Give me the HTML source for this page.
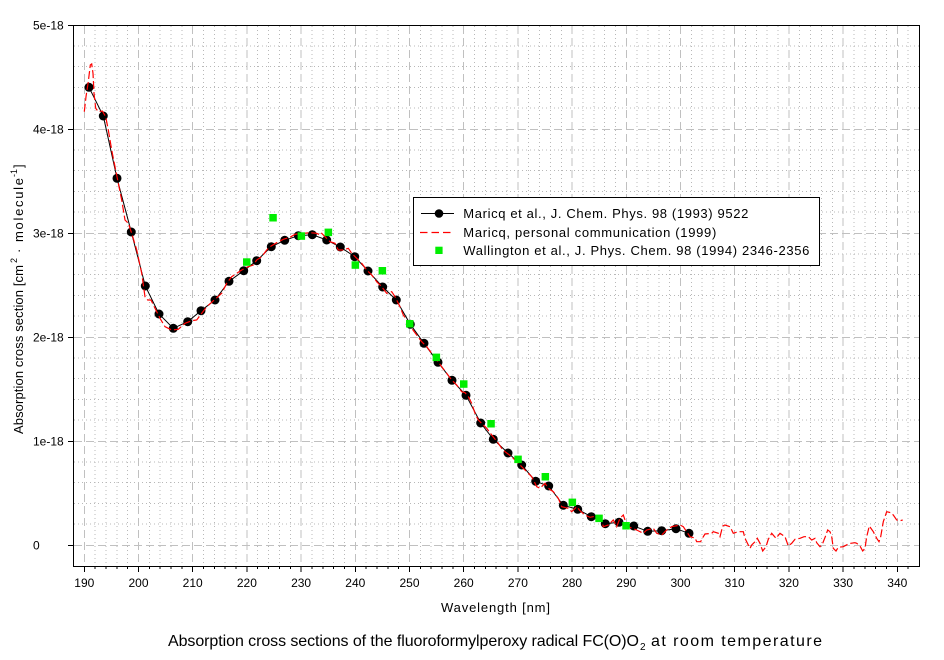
<!DOCTYPE html>
<html>
<head>
<meta charset="utf-8">
<style>
html,body{margin:0;padding:0;background:#fff;}
svg{display:block;}
text{font-family:"Liberation Sans",Arial,sans-serif;fill:#000;}
</style>
</head>
<body>
<svg width="944" height="660" viewBox="0 0 944 660" xmlns="http://www.w3.org/2000/svg">
<rect x="0" y="0" width="944" height="660" fill="#fff"/>

<!-- minor grid -->
<g stroke="#b8b8b8" stroke-width="1" stroke-dasharray="1,3" fill="none" shape-rendering="crispEdges">
<path d="M95.1 26V566M106 26V566M116.8 26V566M127.7 26V566
M149.3 26V566M160.2 26V566M171 26V566M181.9 26V566
M203.5 26V566M214.4 26V566M225.2 26V566M236.1 26V566
M257.7 26V566M268.6 26V566M279.4 26V566M290.3 26V566
M311.9 26V566M322.8 26V566M333.6 26V566M344.5 26V566
M366.1 26V566M377 26V566M387.8 26V566M398.7 26V566
M420.3 26V566M431.2 26V566M442 26V566M452.9 26V566
M474.5 26V566M485.4 26V566M496.2 26V566M507.1 26V566
M528.7 26V566M539.6 26V566M550.4 26V566M561.3 26V566
M582.9 26V566M593.8 26V566M604.6 26V566M615.5 26V566
M637.1 26V566M648 26V566M658.8 26V566M669.7 26V566
M691.3 26V566M702.2 26V566M713 26V566M723.9 26V566
M745.5 26V566M756.4 26V566M767.2 26V566M778.1 26V566
M799.7 26V566M810.6 26V566M821.4 26V566M832.3 26V566
M853.9 26V566M864.8 26V566M875.6 26V566M886.5 26V566
M908.1 26V566"/>
<path d="M74 524.2H919M74 503.4H919M74 482.6H919M74 461.8H919
M74 420.2H919M74 399.4H919M74 378.6H919M74 357.8H919
M74 316.2H919M74 295.4H919M74 274.6H919M74 253.8H919
M74 212.2H919M74 191.4H919M74 170.6H919M74 149.8H919
M74 108.2H919M74 87.4H919M74 66.6H919M74 45.8H919"/>
</g>

<!-- major grid -->
<g stroke="#c0c0c0" stroke-width="1" stroke-dasharray="8,4" fill="none" shape-rendering="crispEdges">
<path d="M84.3 26V566M138.5 26V566M192.7 26V566M246.9 26V566M301.1 26V566M355.3 26V566M409.5 26V566M463.7 26V566M517.9 26V566M572.1 26V566M626.3 26V566M680.5 26V566M734.7 26V566M788.9 26V566M843.1 26V566M897.3 26V566"/>
<path d="M74 545.5H919M74 441.5H919M74 337.5H919M74 233.5H919M74 129.5H919"/>
</g>

<!-- frame -->
<rect x="73.5" y="25.5" width="846" height="541" fill="none" stroke="#000" stroke-width="1" shape-rendering="crispEdges"/>

<!-- ticks -->
<g stroke="#000" stroke-width="1" fill="none" shape-rendering="crispEdges">
<path d="M68 25.5H73M68 129.5H73M68 233.5H73M68 337.5H73M68 441.5H73M68 545.5H73"/>
<path d="M84.3 566V572M138.5 566V572M192.7 566V572M246.9 566V572M301.1 566V572M355.3 566V572M409.5 566V572M463.7 566V572M517.9 566V572M572.1 566V572M626.3 566V572M680.5 566V572M734.7 566V572M788.9 566V572M843.1 566V572M897.3 566V572"/>
<path d="M95.1 566V569M106 566V569M116.8 566V569M127.7 566V569
M149.3 566V569M160.2 566V569M171 566V569M181.9 566V569
M203.5 566V569M214.4 566V569M225.2 566V569M236.1 566V569
M257.7 566V569M268.6 566V569M279.4 566V569M290.3 566V569
M311.9 566V569M322.8 566V569M333.6 566V569M344.5 566V569
M366.1 566V569M377 566V569M387.8 566V569M398.7 566V569
M420.3 566V569M431.2 566V569M442 566V569M452.9 566V569
M474.5 566V569M485.4 566V569M496.2 566V569M507.1 566V569
M528.7 566V569M539.6 566V569M550.4 566V569M561.3 566V569
M582.9 566V569M593.8 566V569M604.6 566V569M615.5 566V569
M637.1 566V569M648 566V569M658.8 566V569M669.7 566V569
M691.3 566V569M702.2 566V569M713 566V569M723.9 566V569
M745.5 566V569M756.4 566V569M767.2 566V569M778.1 566V569
M799.7 566V569M810.6 566V569M821.4 566V569M832.3 566V569
M853.9 566V569M864.8 566V569M875.6 566V569M886.5 566V569
M908.1 566V569"/>
</g>

<!-- y tick labels -->
<g font-size="12">
<text x="33" y="29.5">5e-18</text>
<text x="33" y="133.5">4e-18</text>
<text x="33" y="237.5">3e-18</text>
<text x="33" y="341.5">2e-18</text>
<text x="33" y="445.5">1e-18</text>
<text x="33" y="549.5">0</text>
</g>

<!-- x tick labels -->
<g font-size="12" text-anchor="middle">
<text x="84.3" y="587">190</text>
<text x="138.5" y="587">200</text>
<text x="192.7" y="587">210</text>
<text x="246.9" y="587">220</text>
<text x="301.1" y="587">230</text>
<text x="355.3" y="587">240</text>
<text x="409.5" y="587">250</text>
<text x="463.7" y="587">260</text>
<text x="517.9" y="587">270</text>
<text x="572.1" y="587">280</text>
<text x="626.3" y="587">290</text>
<text x="680.5" y="587">300</text>
<text x="734.7" y="587">310</text>
<text x="788.9" y="587">320</text>
<text x="843.1" y="587">330</text>
<text x="897.3" y="587">340</text>
</g>

<!-- axis titles -->
<text x="441" y="612" font-size="13" textLength="109" lengthAdjust="spacing">Wavelength [nm]</text>

<g transform="translate(23,434) rotate(-90)" font-size="13">
<text x="0" y="0" textLength="169" lengthAdjust="spacing">Absorption cross section [cm</text>
<text x="171" y="-6" font-size="9">2</text>
<text x="181" y="0">·</text>
<text x="192" y="0" textLength="64" lengthAdjust="spacing">molecule</text>
<text x="257" y="-6" font-size="9">-1</text>
<text x="266" y="0">]</text>
</g>

<!-- chart title -->
<text x="168" y="646" font-size="16" textLength="471" lengthAdjust="spacing">Absorption cross sections of the fluoroformylperoxy radical FC(O)O</text>
<text x="640" y="650" font-size="10">2</text>
<text x="651" y="646" font-size="16" textLength="171" lengthAdjust="spacing">at room temperature</text>

<!-- Maricq 1993 black line -->
<polyline fill="none" stroke="#000" stroke-width="1" points="89,87.3 103.3,116 117,178.3 131.3,232 145.3,286 159,314 173.3,328.3 187.7,321.7 201,310.7 215,300 229,281.3 243.7,270.7 256.7,260.7 271.3,246.7 284.7,240.3 298.3,235.7 312.3,234.7 326.7,240 340.3,247 354.7,256.7 368,271 382.7,287 396.3,300 410.3,324.3 424,343.3 438,362.3 452,380.3 466,395.3 480.7,423 493.3,439.3 508,453 521.7,465 535.7,481.3 548.7,486 563.3,505.3 577.7,509.3 591.3,516.7 605.3,523.7 619,522.3 633.7,526 647.7,531.3 661.7,530.7 676,528.7 689,533.3"/>

<!-- circles -->
<g fill="#000">
<circle cx="89" cy="87.3" r="4.5"/><circle cx="103.3" cy="116" r="4.5"/><circle cx="117" cy="178.3" r="4.5"/><circle cx="131.3" cy="232" r="4.5"/>
<circle cx="145.3" cy="286" r="4.5"/><circle cx="159" cy="314" r="4.5"/><circle cx="173.3" cy="328.3" r="4.5"/><circle cx="187.7" cy="321.7" r="4.5"/>
<circle cx="201" cy="310.7" r="4.5"/><circle cx="215" cy="300" r="4.5"/><circle cx="229" cy="281.3" r="4.5"/><circle cx="243.7" cy="270.7" r="4.5"/>
<circle cx="256.7" cy="260.7" r="4.5"/><circle cx="271.3" cy="246.7" r="4.5"/><circle cx="284.7" cy="240.3" r="4.5"/><circle cx="298.3" cy="235.7" r="4.5"/>
<circle cx="312.3" cy="234.7" r="4.5"/><circle cx="326.7" cy="240" r="4.5"/><circle cx="340.3" cy="247" r="4.5"/><circle cx="354.7" cy="256.7" r="4.5"/>
<circle cx="368" cy="271" r="4.5"/><circle cx="382.7" cy="287" r="4.5"/><circle cx="396.3" cy="300" r="4.5"/><circle cx="410.3" cy="324.3" r="4.5"/>
<circle cx="424" cy="343.3" r="4.5"/><circle cx="438" cy="362.3" r="4.5"/><circle cx="452" cy="380.3" r="4.5"/><circle cx="466" cy="395.3" r="4.5"/>
<circle cx="480.7" cy="423" r="4.5"/><circle cx="493.3" cy="439.3" r="4.5"/><circle cx="508" cy="453" r="4.5"/><circle cx="521.7" cy="465" r="4.5"/>
<circle cx="535.7" cy="481.3" r="4.5"/><circle cx="548.7" cy="486" r="4.5"/><circle cx="563.3" cy="505.3" r="4.5"/><circle cx="577.7" cy="509.3" r="4.5"/>
<circle cx="591.3" cy="516.7" r="4.5"/><circle cx="605.3" cy="523.7" r="4.5"/><circle cx="619" cy="522.3" r="4.5"/><circle cx="633.7" cy="526" r="4.5"/>
<circle cx="647.7" cy="531.3" r="4.5"/><circle cx="661.7" cy="530.7" r="4.5"/><circle cx="676" cy="528.7" r="4.5"/><circle cx="689" cy="533.3" r="4.5"/>
</g>

<!-- Maricq 1999 red dashed -->
<polyline fill="none" stroke="#ff0000" stroke-width="1.2" stroke-dasharray="8,3" points="84.3,111.7 86,96.7 88.3,81.7 90.3,65 91.7,64 93,73.3 94,93.3 95.7,108.3 98.3,111.7 102.3,111 105.7,116.7 108.3,130 111.7,150 115,166.7 118.3,183.3 121.7,200 125,220 128.3,223.3 131.7,233.3 136.7,250 141.7,273.3 145,296.7 147.7,300 151,300 155,308.3 160,318.3 165,326.7 171.7,330 178.3,329.3 185,323.3 191.7,320.7 196.7,320 201.7,313.3 206.7,306.7 215,299.3 221.7,293.3 226.7,283.3 231.7,276.7 241.7,270 248.3,266.7 253.3,265 256.7,260 261.7,256.7 266.7,250 270,246.7 276.7,242.7 283.3,239.3 290,237.3 295,234.3 303.3,233.3 310,232.7 316.7,233.3 320,235 321.7,233.3 325,236.7 330,241.7 335,243.3 338.3,250 343.3,250 348.3,248.3 351.7,253.3 356.7,258.3 361.7,263.3 366.7,270 371.7,275 376.7,281.7 381.7,286.7 386.7,293.3 391.7,291.7 395,296.7 400,306.7 403.3,315 406.7,320 411.7,328.3 416.7,335 421.7,341.7 426.7,346.7 431.7,353.3 436.7,360 441.7,366.7 446.7,373.3 451.7,380 456.7,385 461.7,391.7 465,392.7 468.3,396.7 471.7,403.3 475,413.3 478.3,420 483.3,425 486.7,428.3 491.7,435 498.3,443.3 501.7,448.3 505,451.7 511.7,456.7 520,465 526.7,471.7 531.7,476.7 536.7,486.7 540,488.3 545,483.3 548.3,488.3 553.3,491.7 558.3,498.3 561.7,506.7 568.3,508.3 571.7,511.7 576.7,506.7 580,510.7 585,515 590,517.3 596.7,516 601.7,520 603.3,526.7 608.3,525 613.3,520 616.7,526.7 620,518.3 623.3,515 625,520 628.3,526.7 636.7,530 643.3,533.3 646.7,530 653.3,528.3 656.7,533.3 661.7,535 666.7,530 671.7,526.7 680,525 683.3,526.7 690,536.7 695,538 696.7,541.7 700.7,541.7 701.7,539.3 705,534 711.7,533.3 713.3,531.7 718.3,533.3 720,536.7 722.7,526 725,525 730,526.7 733.3,533.3 738.3,531.7 743.3,531.7 745,538.3 748.3,545 750,548.3 751.7,545 755,541.7 757.3,538.3 760,543.3 762.7,551 766,546.7 768.3,539.3 771.7,533.3 776,538.3 780,533.3 785,536.7 788.3,546 791.7,543.3 795,539.3 800,538.3 804,536.7 808.3,536.7 811.7,540 815,538.3 816.7,542.7 820,546.7 822.7,543.3 825.3,536.7 827.7,530 830,531.7 831.7,536.7 833.3,548.3 836,551 838.3,547.3 843.3,546.7 848.3,544 850.7,543.3 855,542.7 856.7,543.3 860,546 862.7,551 865,548.3 866.7,536.7 869.3,526 873.3,531.7 876.7,538.3 879,541.7 880.7,536.7 883.3,521.7 886.7,511.7 890.7,512.7 893.3,515 896.7,520 900,520.7 902.7,520"/>

<!-- Wallington green squares -->
<g fill="#00ee00">
<rect x="243" y="258.3" width="7.5" height="7.5"/>
<rect x="269.3" y="214" width="7.5" height="7.5"/>
<rect x="297.6" y="232.3" width="7.5" height="7.5"/>
<rect x="324.6" y="228.6" width="7.5" height="7.5"/>
<rect x="351.6" y="261.3" width="7.5" height="7.5"/>
<rect x="378.6" y="267" width="7.5" height="7.5"/>
<rect x="406" y="320" width="7.5" height="7.5"/>
<rect x="432.6" y="353.6" width="7.5" height="7.5"/>
<rect x="460" y="380.3" width="7.5" height="7.5"/>
<rect x="487.3" y="420" width="7.5" height="7.5"/>
<rect x="514.3" y="455.6" width="7.5" height="7.5"/>
<rect x="541.6" y="473" width="7.5" height="7.5"/>
<rect x="568.6" y="498.6" width="7.5" height="7.5"/>
<rect x="595.3" y="514.6" width="7.5" height="7.5"/>
<rect x="622.3" y="522" width="7.5" height="7.5"/>
</g>

<!-- legend -->
<rect x="413.5" y="197.5" width="406" height="68" fill="#fff" stroke="#000" stroke-width="1" shape-rendering="crispEdges"/>
<line x1="421" y1="213.5" x2="454" y2="213.5" stroke="#000" stroke-width="1"/>
<circle cx="439" cy="213.5" r="4.3" fill="#000"/>
<line x1="420" y1="232.5" x2="454" y2="232.5" stroke="#ff0000" stroke-width="1.2" stroke-dasharray="7.5,4"/>
<rect x="435.3" y="246.7" width="7.3" height="7.3" fill="#00ee00"/>
<g font-size="13">
<text x="463.3" y="218" textLength="285" lengthAdjust="spacing">Maricq et al., J. Chem. Phys. 98 (1993) 9522</text>
<text x="463.3" y="237" textLength="253" lengthAdjust="spacing">Maricq, personal communication (1999)</text>
<text x="463.3" y="255" textLength="346" lengthAdjust="spacing">Wallington et al., J. Phys. Chem. 98 (1994) 2346-2356</text>
</g>
</svg>
</body>
</html>
